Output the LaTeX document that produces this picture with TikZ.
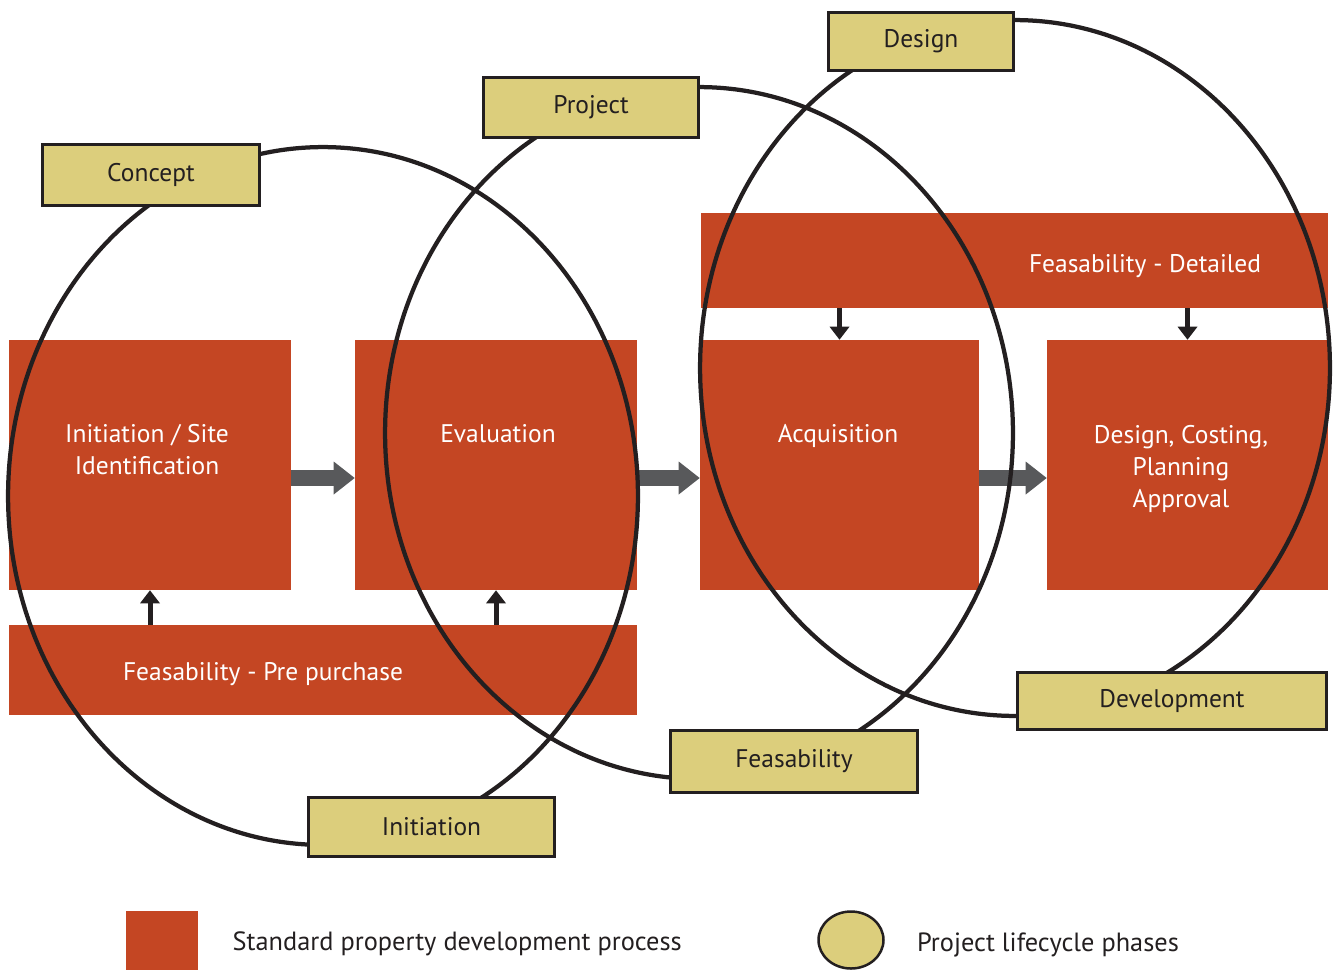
\documentclass[tikz,border=0pt]{standalone}
\usepackage{fontspec}
\setmainfont{PT Sans}
\usetikzlibrary{arrows.meta,calc,shapes.geometric}
\definecolor{procred}{RGB}{196,70,35}
\definecolor{phaseyellow}{RGB}{220,206,124}
\definecolor{arrowgray}{RGB}{88,89,91}
\definecolor{ink}{RGB}{35,31,32}

\begin{document}
\begin{tikzpicture}[x=0.02cm,y=-0.02cm,
  labelfont/.style={font=\fontsize{14.5}{18.2}\selectfont},
  procbox/.style={fill=procred, draw=none, inner sep=0pt},
  proctext/.style={labelfont, text=white, align=center, anchor=base},
  phasebox/.style={labelfont, fill=phaseyellow, draw=ink, line width=0.06cm, inner sep=0pt, text=ink},
  flow/.style={draw=arrowgray, line width=0.32cm, -{Triangle[length=0.42cm, width=0.66cm, line width=0pt]}},
  feed/.style={draw=ink, line width=0.1cm, -{Triangle[length=0.26cm, width=0.4cm, line width=0pt]}},
  lifecycle/.style={draw=ink, line width=0.085cm},
  legendtext/.style={font=\fontsize{15}{18}\selectfont, text=ink, anchor=base west, inner sep=0pt},
]
\useasboundingbox (0,0) rectangle (1334,971);

% process stages
\node[procbox, minimum width=5.64cm, minimum height=5cm] (init) at (150,465) {};
\node[procbox, minimum width=5.64cm, minimum height=5cm] (eval) at (496,465) {};
\node[procbox, minimum width=5.58cm, minimum height=5cm] (acq)  at (839.5,465) {};
\node[procbox, minimum width=5.62cm, minimum height=5cm] (dcp)  at (1187.5,465) {};
\node[procbox, minimum width=12.54cm, minimum height=1.9cm] (fdet) at (1014.5,260.5) {};
\node[procbox, minimum width=12.56cm, minimum height=1.8cm] (fpre) at (323,670) {};

% stage names (base anchor sits on the last line)
\node[proctext] at (147,474) {Initiation / Site\\Identification};
\node[proctext] at (498,442) {Evaluation};
\node[proctext] at (838,442) {Acquisition};
\node[proctext] at (1181,507) {Design, Costing,\\Planning\\Approval};
\node[proctext] at (1145,272) {Feasability - Detailed};
\node[proctext] at (263,680) {Feasability - Pre purchase};

% flow between stages
\draw[flow] ($(init.east)+(0,13)$) -- ($(eval.west)+(0,13)$);
\draw[flow] ($(eval.east)+(0,13)$) -- ($(acq.west)+(0,13)$);
\draw[flow] ($(acq.east)+(0,13)$) -- ($(dcp.west)+(0,13)$);

% feasibility inputs
\draw[feed] (init.south |- fpre.north) -- (init.south);
\draw[feed] (eval.south |- fpre.north) -- (eval.south);
\draw[feed] (acq.north |- fdet.south) -- (acq.north);
\draw[feed] (dcp.north |- fdet.south) -- (dcp.north);

% lifecycle loops
\draw[lifecycle] (323,496) ellipse [x radius=6.3cm, y radius=6.98cm];
\draw[lifecycle] (699,433) ellipse [x radius=6.28cm, y radius=6.92cm];
\draw[lifecycle] (1015,368) ellipse [x radius=6.3cm, y radius=6.96cm];

% phase labels
\node[phasebox, minimum width=4.34cm, minimum height=1.22cm] (concept) at (151,175) {Concept};
\node[phasebox, minimum width=4.92cm, minimum height=1.18cm] (initiation) at (431.5,827) {Initiation};
\node[phasebox, minimum width=4.3cm, minimum height=1.2cm] (project) at (591,107.5) {Project};
\node[phasebox, minimum width=4.94cm, minimum height=1.24cm] (feas) at (794,761.5) {Feasability};
\node[phasebox, minimum width=3.7cm, minimum height=1.16cm] (design) at (921,41.5) {Design};
\node[phasebox, minimum width=6.18cm, minimum height=1.14cm] (devel) at (1172,701) {Development};

% legend
\node[procbox, minimum width=1.44cm, minimum height=1.18cm] (legproc) at (162,940.5) {};
\node[legendtext] at ($(legproc.east)+(34,10)$) {Standard property development process};
\node[ellipse, draw=ink, line width=0.05cm, fill=phaseyellow, inner sep=0pt,
      minimum width=1.3cm, minimum height=1.14cm] (legphase) at (851,940) {};
\node[legendtext] at ($(legphase.east)+(32,11)$) {Project lifecycle phases};
\end{tikzpicture}
\end{document}
